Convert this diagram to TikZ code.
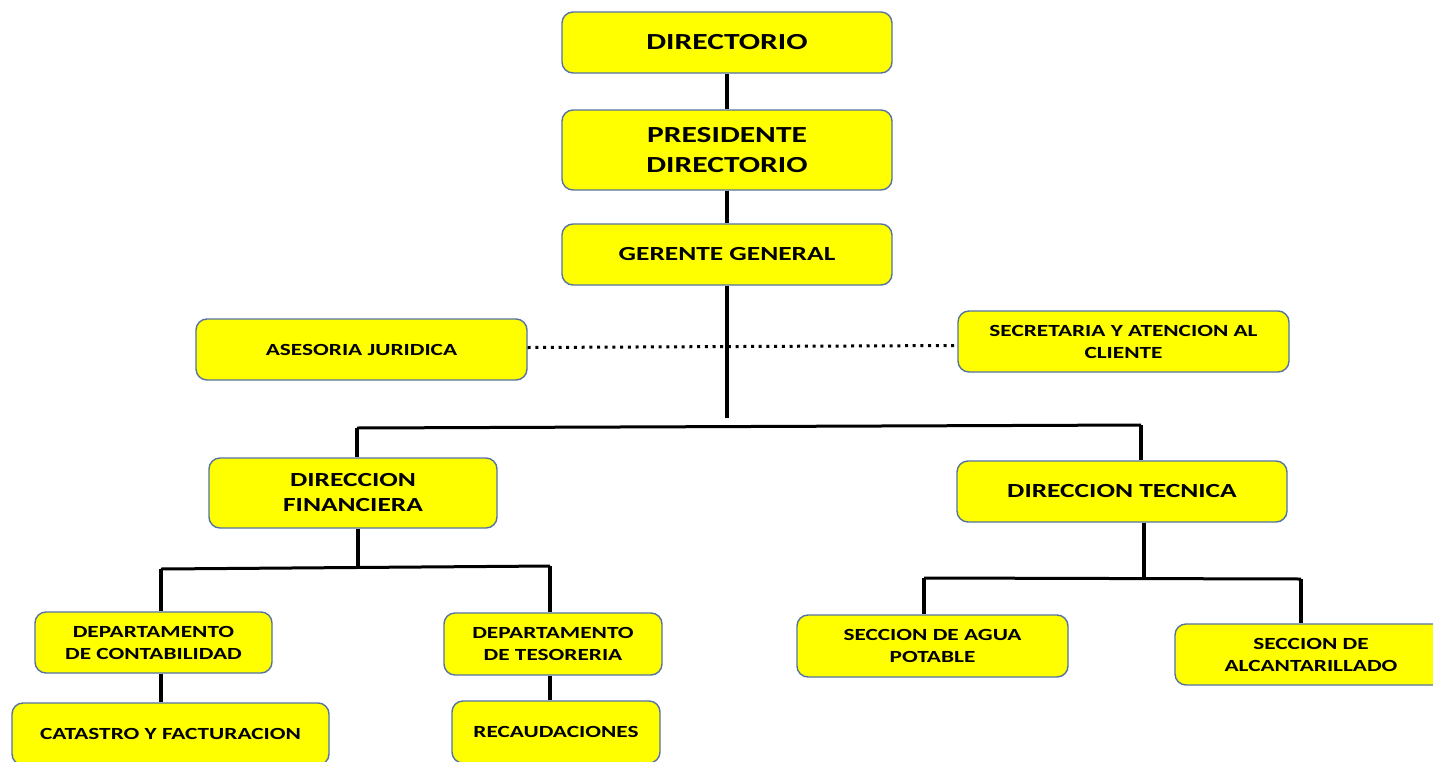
\documentclass[tikz,border=0pt]{standalone}
\usepackage{fontspec}
\setmainfont{Carlito}[FakeStretch=1.37]
\definecolor{boxfill}{RGB}{255,255,0}
\definecolor{boxline}{RGB}{84,114,164}
\begin{document}
\begin{tikzpicture}[x=1pt,y=-1pt,
  box/.style={draw=boxline,fill=boxfill,line width=1.4pt,rounded corners=11pt,
    inner sep=0pt,align=center,font=\bfseries},
  big/.style={font=\fontsize{23}{30}\selectfont\bfseries},
  mid/.style={font=\fontsize{20}{25}\selectfont\bfseries},
  sml/.style={font=\fontsize{17}{22}\selectfont\bfseries},
  conn/.style={line width=3.2pt,black},
  dotline/.style={line width=3pt,dash pattern=on 3pt off 4.7pt,black}]
\useasboundingbox (0,0) rectangle (1433,761);
\clip (0,0) rectangle (1433,761);
\node[box,big,minimum width=330pt,minimum height=61pt] (dir) at (727,42.5) {DIRECTORIO};
\node[box,big,minimum width=330pt,minimum height=80pt] (pres) at (727,150) {PRESIDENTE\\DIRECTORIO};
\node[box,mid,minimum width=330pt,minimum height=61pt] (ger) at (727,254.5) {GERENTE GENERAL};
\node[box,sml,minimum width=331pt,minimum height=61pt] (ase) at (361.5,349.5) {ASESORIA JURIDICA};
\node[box,sml,minimum width=331pt,minimum height=61pt] (sec) at (1123.5,341.5) {SECRETARIA Y ATENCION AL\\CLIENTE};
\node[box,mid,minimum width=288pt,minimum height=70pt] (fin) at (353,493) {DIRECCION\\FINANCIERA};
\node[box,mid,minimum width=330pt,minimum height=61pt] (tec) at (1122,491.5) {DIRECCION TECNICA};
\node[box,sml,minimum width=237pt,minimum height=61pt] (con) at (153.5,642.5) {DEPARTAMENTO\\DE CONTABILIDAD};
\node[box,sml,minimum width=317pt,minimum height=62pt] (cat) at (170.5,734) {CATASTRO Y FACTURACION};
\node[box,sml,minimum width=218pt,minimum height=62pt] (tes) at (553,644) {DEPARTAMENTO\\DE TESORERIA};
\node[box,sml,minimum width=208pt,minimum height=62pt] (rec) at (556,732) {RECAUDACIONES};
\node[box,sml,minimum width=271pt,minimum height=62pt] (agua) at (932.5,646) {SECCION DE AGUA\\POTABLE};
\node[box,sml,minimum width=272pt,minimum height=61pt] (alc) at (1311,654.5) {SECCION DE\\ALCANTARILLADO};
% connectors
\draw[conn] (dir.south) -- (pres.north);
\draw[conn] (pres.south) -- (ger.north);
\coordinate (gend) at (727,418);
\draw[conn] (ger.south) -- (gend);
\draw[dotline] ([yshift=2pt]ase.east) -- ([yshift=-4pt]sec.west);
\coordinate (hl) at (357,428);
\coordinate (hr) at (1141,425);
\draw[conn,line width=3pt] (hl) -- (hr);
\draw[conn] (hl) -- (hl |- fin.north);
\draw[conn] (hr) -- (hr |- tec.north);
% financiera branch
\coordinate (fmid) at (358,567.5);
\coordinate (fl) at (161,569);
\coordinate (fr) at (550,566);
\draw[conn] (fin.south -| fmid) -- (fmid);
\draw[conn,line width=3pt] (fl) -- (fr);
\draw[conn] (fl) -- (fl |- con.north);
\draw[conn] (fr) -- (fr |- tes.north);
\draw[conn] (con.south -| fl) -- (fl |- cat.north);
\draw[conn] (tes.south -| fr) -- (fr |- rec.north);
% tecnica branch
\coordinate (tmid) at (1144,578);
\coordinate (tl) at (924,578);
\coordinate (tr) at (1301,579);
\draw[conn] (tec.south -| tmid) -- (tmid);
\draw[conn,line width=3pt] (tl) -- (tr);
\draw[conn] (tl) -- (tl |- agua.north);
\draw[conn] (tr) -- (tr |- alc.north);
\end{tikzpicture}
\end{document}
